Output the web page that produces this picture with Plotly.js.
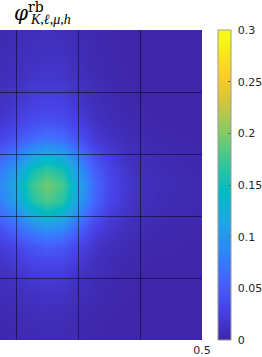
<!DOCTYPE html>
<html>
<head>
<meta charset="utf-8">
<script src="https://cdn.plot.ly/plotly-3.0.1.min.js"></script>
<style>html,body{margin:0;padding:0;background:#fff;}#chart{width:262px;height:357px;}</style>
</head>
<body>
<div id="chart"></div>
<script>
// grid of cell centres (visible part of the domain)
const xVals = [0.175,0.2,0.225,0.25,0.275,0.3,0.325,0.35,0.375,0.4,0.425,0.45,0.475,0.5];
const yVals = [0,0.025,0.05,0.075,0.1,0.125,0.15,0.175,0.2,0.225,0.25,0.275,0.3,0.325,0.35,0.375,0.4,0.425,0.45,0.475,0.5];
// values, one row per y (bottom to top)
const zRows = [
 [.002,.003,.004,.005,.005,.003,.002,.001,.001,0,0,0,0,0],
 [.003,.004,.006,.007,.006,.004,.002,.001,.001,0,0,0,0,0],
 [.005,.006,.009,.010,.009,.006,.003,.002,.001,.001,0,0,0,0],
 [.007,.009,.013,.015,.014,.009,.005,.003,.002,.001,.001,0,0,0],
 [.010,.014,.019,.022,.020,.013,.007,.004,.002,.001,.001,.001,.001,0],
 [.015,.020,.029,.033,.030,.020,.011,.006,.003,.002,.001,.001,.001,.001],
 [.023,.031,.044,.050,.045,.030,.016,.009,.005,.003,.002,.002,.001,.001],
 [.038,.053,.075,.085,.077,.051,.027,.015,.009,.005,.003,.003,.002,.002],
 [.061,.084,.119,.135,.122,.081,.043,.024,.014,.008,.005,.004,.003,.003],
 [.081,.112,.158,.180,.162,.108,.058,.032,.018,.011,.007,.005,.005,.004],
 [.088,.121,.172,.195,.176,.117,.062,.035,.020,.012,.008,.006,.005,.004],
 [.077,.105,.150,.170,.153,.102,.054,.031,.017,.010,.007,.005,.004,.003],
 [.054,.074,.106,.120,.108,.072,.038,.022,.012,.007,.005,.004,.003,.002],
 [.032,.043,.062,.070,.063,.042,.022,.013,.007,.004,.003,.002,.002,.001],
 [.020,.028,.040,.045,.041,.027,.014,.008,.005,.003,.002,.001,.001,.001],
 [.014,.020,.028,.032,.029,.019,.010,.006,.003,.002,.001,.001,.001,.001],
 [.011,.015,.021,.024,.022,.014,.008,.004,.002,.001,.001,.001,.001,0],
 [.008,.011,.016,.018,.016,.011,.006,.003,.002,.001,.001,.001,0,0],
 [.006,.009,.012,.014,.013,.008,.004,.003,.001,.001,.001,0,0,0],
 [.005,.007,.010,.011,.010,.007,.004,.002,.001,.001,0,0,0,0],
 [.005,.006,.009,.010,.009,.006,.003,.002,.001,.001,0,0,0,0]
];
const xTickVals = [0.2,0.3,0.4,0.5];
const xTickText = ['','','','0.5'];
const yTickVals = [0.1,0.2,0.3,0.4];
const cbTickVals = [0,0.05,0.1,0.15,0.2,0.25,0.3];
const cbTickText = ['0','0.05','0.1','0.15','0.2','0.25','0.3'];

const parula = [
 [0.0,'rgb(62,38,168)'],[0.0952,'rgb(71,65,229)'],[0.1905,'rgb(69,99,253)'],
 [0.2857,'rgb(46,135,247)'],[0.381,'rgb(32,165,227)'],[0.4762,'rgb(2,186,195)'],
 [0.5714,'rgb(55,198,151)'],[0.6667,'rgb(129,203,102)'],[0.7619,'rgb(209,196,63)'],
 [0.8571,'rgb(254,206,38)'],[0.9524,'rgb(246,243,20)'],[1.0,'rgb(249,251,21)']
];

const W = 262, H = 357, L = 0, R = 60, T = 30, B = 17;
const plotW = W - L - R, plotH = H - T - B;

const trace = {
  type: 'heatmap', x: xVals, y: yVals, z: zRows,
  zmin: 0, zmax: 0.3, zsmooth: 'best', colorscale: parula,
  colorbar: {
    x: 1 + 16/plotW, xanchor: 'left', y: 0.5, yanchor: 'middle',
    len: 1, lenmode: 'fraction', thickness: 13, thicknessmode: 'pixels',
    outlinewidth: 1, outlinecolor: '#9a9a9a', xpad: 0, ypad: 0,
    tickvals: cbTickVals, ticktext: cbTickText.map(t => '\u00a0' + t), ticks: 'inside', ticklen: 3,
    tickcolor: '#666', tickwidth: 1,
    tickfont: {family: 'DejaVu Sans', size: 11, color: '#262626'}
  }
};

const layout = {
  width: W, height: H, margin: {l: L, r: R, t: T, b: B, pad: 0, autoexpand: false},
  paper_bgcolor: '#fff', plot_bgcolor: '#fff', showlegend: false,
  title: {text: '<i>φ</i><sup>rb</sup>', font: {family: 'DejaVu Serif', size: 20, color: '#000'},
          xref: 'container', x: 14/W, xanchor: 'left', yref: 'container', y: 1 - 6/H, yanchor: 'top'},
  xaxis: {range: [0.5 - plotW/620, 0.5], tickvals: xTickVals, ticktext: xTickText,
          ticks: 'inside', ticklen: plotH, tickwidth: 1, tickcolor: 'rgba(0,0,0,0.5)',
          showgrid: false, zeroline: false, showline: false, layer: 'above traces',
          ticklabelstandoff: 2,
          tickfont: {family: 'DejaVu Sans', size: 11, color: '#262626'}},
  yaxis: {range: [0, 0.5], tickvals: yTickVals, showticklabels: false,
          ticks: 'inside', ticklen: plotW, tickwidth: 1, tickcolor: 'rgba(0,0,0,0.5)',
          showgrid: false, zeroline: false, showline: false, layer: 'above traces'},
  annotations: [{
    text: '<i>K</i>,<i>ℓ</i>,<i>μ</i>,<i>h</i>', xref: 'paper', yref: 'paper',
    x: 28/plotW, xanchor: 'left', y: 1 + 11/plotH, yanchor: 'middle', showarrow: false,
    font: {family: 'Liberation Serif, DejaVu Serif', size: 14, color: '#000'}
  }]
};

Plotly.newPlot('chart', [trace], layout, {displayModeBar: false, staticPlot: true});
</script>
</body>
</html>
